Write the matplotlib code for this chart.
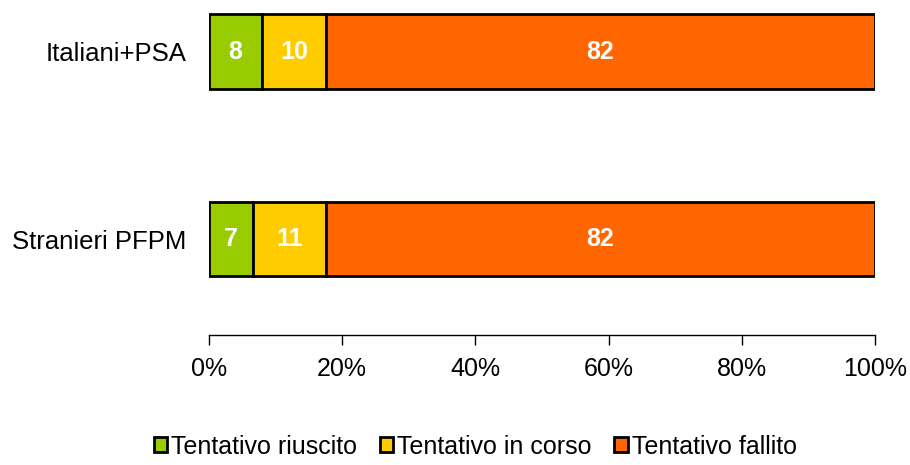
import matplotlib.pyplot as plt
from matplotlib.ticker import PercentFormatter

plt.rcParams['font.family'] = ['Liberation Sans', 'DejaVu Sans']

# dati
categorie = ['Stranieri PFPM', 'Italiani+PSA']
serie = ['Tentativo riuscito', 'Tentativo in corso', 'Tentativo fallito']
riuscito = [6.6, 7.9]
in_corso = [11.0, 9.7]
fallito = [82.4, 82.4]
etichette = [['7', '11', '82'], ['8', '10', '82']]
colori = ['#99CC00', '#FFCC00', '#FF6600']

fig = plt.figure(figsize=(9.1, 4.65), dpi=100)
ax = fig.add_axes([0.2297, 0.2796, 0.7318, 0.7204])

valori = [riuscito, in_corso, fallito]
y = range(len(categorie))
sinistra = [0.0] * len(categorie)
for s, (nome, vals, col) in enumerate(zip(serie, valori, colori)):
    bars = ax.barh(y, vals, left=sinistra, height=0.4, color=col,
                   edgecolor='black', linewidth=2, label=nome)
    for i, b in enumerate(bars):
        ax.text(sinistra[i] + vals[i] / 2, i, etichette[i][s],
                ha='center', va='center', color='white',
                fontsize=18, fontweight='bold')
    sinistra = [a + b for a, b in zip(sinistra, vals)]

ax.set_xlim(0, 100)
ax.set_ylim(-0.512, 1.275)
ax.set_yticks(list(y))
ax.set_yticklabels(categorie, fontsize=18.5)
ax.tick_params(axis='y', length=0, pad=16.5)
ax.xaxis.set_major_formatter(PercentFormatter(decimals=0))
ax.set_xticks([0, 20, 40, 60, 80, 100])
ax.tick_params(axis='x', labelsize=18, length=7, width=1, pad=9)
for lato in ['top', 'right', 'left']:
    ax.spines[lato].set_visible(False)
ax.spines['bottom'].set_linewidth(1)

fig.legend(loc='lower center', bbox_to_anchor=(0.522, -0.035), ncol=3,
           frameon=False, fontsize=18, handlelength=0.55, handleheight=0.55,
           handletextpad=0.15, columnspacing=0.9)

fig.savefig('out.png', dpi=100)
